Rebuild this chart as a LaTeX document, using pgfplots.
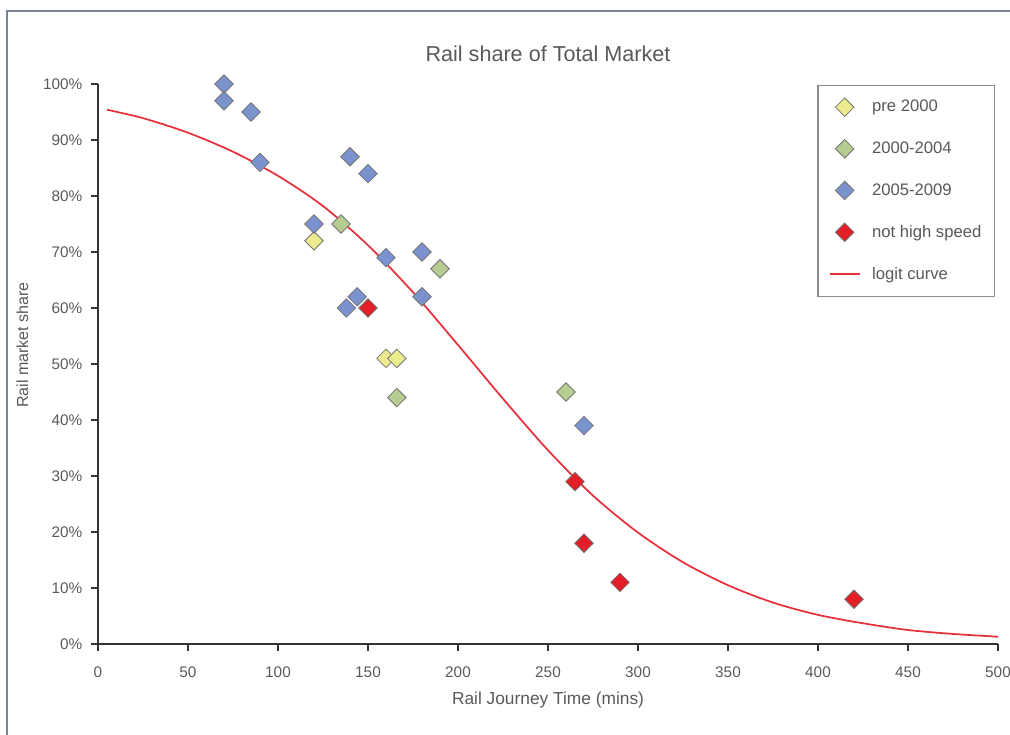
\documentclass[border=0pt]{standalone}
\usepackage{fontspec}
\setmainfont{Liberation Sans}
\usepackage{pgfplots}
\pgfplotsset{compat=1.18}

\definecolor{txt}{HTML}{595959}
\definecolor{pre}{HTML}{ECEC8E}
\definecolor{mid}{HTML}{B7CC90}
\definecolor{new}{HTML}{7A93CF}
\definecolor{nhs}{HTML}{E31E26}
\definecolor{curve}{HTML}{E8303A}
\definecolor{frame}{HTML}{7B8394}

\pgfplotsset{
  dia/.style={only marks, mark=square*, mark size=4.9pt,
    mark options={rotate=45, fill=#1, draw=black!55},
    legend image code/.code={\draw[##1] plot coordinates {(0.4cm,0cm)};}},
  lcurve/.style={legend image code/.code={\draw[##1] (0cm,0cm) -- (0.8cm,0cm);}},
}

\begin{document}
\begin{tikzpicture}
\useasboundingbox (-73.5pt,-68.25pt) rectangle (684pt,483pt);
\clip (-73.5pt,-68.25pt) rectangle (684pt,483pt);
\draw[frame, line width=1.5pt] (-68.25pt,474.75pt) rectangle (720pt,-90pt);
\begin{axis}[
  scale only axis,
  width=675pt, height=420pt,
  xmin=0, xmax=500, ymin=0, ymax=100,
  axis x line*=bottom, axis y line*=left,
  axis line style={-, line width=1.5pt, black!80},
  tick align=outside,
  major tick length=5.25pt,
  tick style={line width=1.3pt, black!80},
  xtick={0,50,...,500},
  ytick={0,10,...,100},
  yticklabel={\pgfmathprintnumber{\tick}\%},
  /pgf/number format/assume math mode=true,
  ticklabel style={font=\fontsize{11.5}{13}\selectfont, text=txt},
  xticklabel style={yshift=-8pt},
  yticklabel style={xshift=-3pt},
  title={Rail share of Total Market},
  title style={at={(axis description cs:0.5,1.04)}, anchor=center, font=\fontsize{16.2}{19}\selectfont, text=txt},
  xlabel={Rail Journey Time (mins)},
  xlabel style={at={(axis description cs:0.5,-0.1)}, anchor=center, font=\fontsize{13}{15}\selectfont, text=txt},
  ylabel={Rail market share},
  ylabel style={at={(axis description cs:-0.084,0.534)}, anchor=center, font=\fontsize{12}{14}\selectfont, text=txt},
  legend style={at={(rel axis cs:0.997,0.998)}, anchor=north east,
    draw=black!45, line width=0.8pt, fill=white,
    font=\fontsize{12.5}{14}\selectfont, text=txt,
    row sep=17pt, inner xsep=8pt, inner ysep=9pt,
    /tikz/every odd column/.append style={column sep=6.5pt}},
  legend cell align=left,
  every axis plot/.append style={line width=0.6pt},
]
\addplot[dia=pre] coordinates {(120,72) (160,51) (166,51)};
\addlegendentry{pre 2000}
\addplot[dia=mid] coordinates {(135,75) (190,67) (166,44) (260,45)};
\addlegendentry{2000-2004}
\addplot[dia=new] coordinates {(70,100) (70,97) (85,95) (90,86) (120,75) (140,87) (150,84)
               (160,69) (180,70) (180,62) (138,60) (144,62) (270,39)};
\addlegendentry{2005-2009}
\addplot[dia=nhs] coordinates {(150,60) (265,29) (270,18) (290,11) (420,8)};
\addlegendentry{not high speed}
\addplot[curve, line width=1.3pt, smooth, no marks, lcurve] coordinates {
  (5,95.4) (25,93.9) (50,91.3) (75,87.9) (100,83.6) (125,78.2) (150,71.2)
  (175,62.8) (200,53.4) (225,43.8) (250,34.6) (275,26.5) (300,19.9)
  (325,14.6) (350,10.5) (375,7.4) (400,5.2) (425,3.7) (450,2.5) (475,1.8) (500,1.3)};
\addlegendentry{logit curve}
\end{axis}
\end{tikzpicture}
\end{document}
